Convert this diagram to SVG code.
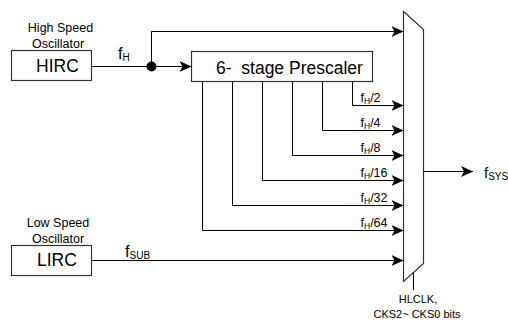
<svg xmlns="http://www.w3.org/2000/svg" width="508" height="322" viewBox="0 0 508 322">
<style>
text{font-family:"Liberation Sans",Arial,sans-serif;fill:#000}
.box{fill:#fff;stroke:#333;stroke-width:1.2}
.ln{fill:none;stroke:#000;stroke-width:1}
.arr{marker-end:url(#ah)}
.osc{font-size:12.5px;text-anchor:middle}
.big{font-size:17.5px}
.lbl{font-size:12.5px}
.sub{font-size:8.5px}
.ctl{font-size:11px;text-anchor:middle}
</style>
<defs>
<marker id="ah" viewBox="0 0 12 11" refX="12" refY="5.5" markerWidth="12" markerHeight="11" orient="auto" markerUnits="userSpaceOnUse">
<path d="M0,0 L12,5.5 L0,11 L3,5.5 Z" fill="#000"/>
</marker>
</defs>
<g id="hirc">
<text class="osc" x="60.5" y="32">High Speed</text>
<text class="osc" x="58" y="47.5">Oscillator</text>
<rect class="box" x="11.5" y="50.5" width="80" height="30"/>
<text class="big" x="36" y="71.5">HIRC</text>
</g>
<g id="lirc">
<text class="osc" x="58" y="227">Low Speed</text>
<text class="osc" x="58" y="242.5">Oscillator</text>
<rect class="box" x="11.5" y="245.5" width="80" height="30"/>
<text class="big" x="37" y="266">LIRC</text>
</g>
<g id="prescaler">
<rect class="box" x="191.5" y="51.5" width="181" height="30"/>
<text class="big" x="216" y="73.5" xml:space="preserve">6-  stage Prescaler</text>
</g>
<g id="mux">
<polygon class="box" points="403.5,11.5 423.5,29.5 423.5,263.5 403.5,281.5"/>
<line class="ln" x1="413.5" y1="272.5" x2="413.5" y2="290"/>
<text class="ctl" x="418" y="302.5">HLCLK,</text>
<text class="ctl" x="417" y="318">CKS2~ CKS0 bits</text>
</g>
<g id="connectors">
<line class="ln" x1="91.5" y1="66.5" x2="151.5" y2="66.5"/>
<circle cx="151.5" cy="66.5" r="5" fill="#000"/>
<line class="ln arr" x1="151.5" y1="66.5" x2="191.5" y2="66.5"/>
<polyline class="ln arr" points="151.5,66.5 151.5,31.5 403.5,31.5"/>
<text x="118" y="58.5" style="font-size:16.5px">f<tspan class="sub" style="font-size:10px" dy="2.5">H</tspan></text>
<polyline class="ln arr" points="352.5,81.5 352.5,105.5 403.5,105.5"/>
<polyline class="ln arr" points="322.5,81.5 322.5,130.5 403.5,130.5"/>
<polyline class="ln arr" points="292.5,81.5 292.5,155.5 403.5,155.5"/>
<polyline class="ln arr" points="262.5,81.5 262.5,180.5 403.5,180.5"/>
<polyline class="ln arr" points="232.5,81.5 232.5,205.5 403.5,205.5"/>
<polyline class="ln arr" points="202.5,81.5 202.5,230.5 403.5,230.5"/>
<text class="lbl" x="360.5" y="101.5">f<tspan class="sub" dy="2">H</tspan><tspan dy="-2">/2</tspan></text>
<text class="lbl" x="360.5" y="126.5">f<tspan class="sub" dy="2">H</tspan><tspan dy="-2">/4</tspan></text>
<text class="lbl" x="360.5" y="151.5">f<tspan class="sub" dy="2">H</tspan><tspan dy="-2">/8</tspan></text>
<text class="lbl" x="360.5" y="176.5">f<tspan class="sub" dy="2">H</tspan><tspan dy="-2">/16</tspan></text>
<text class="lbl" x="360.5" y="201.5">f<tspan class="sub" dy="2">H</tspan><tspan dy="-2">/32</tspan></text>
<text class="lbl" x="360.5" y="226.5">f<tspan class="sub" dy="2">H</tspan><tspan dy="-2">/64</tspan></text>
<line class="ln arr" x1="91.5" y1="260.5" x2="403.5" y2="260.5"/>
<text x="125" y="256.5" style="font-size:16.5px">f<tspan class="sub" style="font-size:10px" dy="2">SUB</tspan></text>
<line class="ln arr" x1="423.5" y1="171.5" x2="473" y2="171.5"/>
<text x="484" y="177.5" style="font-size:15px">f<tspan class="sub" style="font-size:10px" dy="2.5">SYS</tspan></text>
</g>
</svg>
